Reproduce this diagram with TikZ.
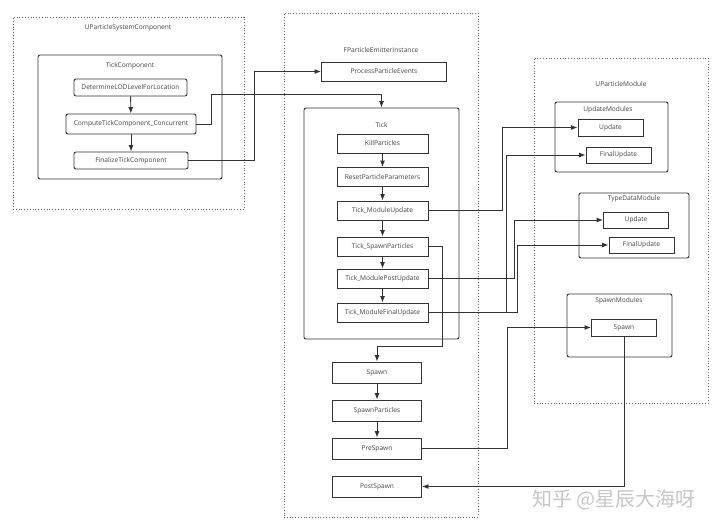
\documentclass[tikz,border=0pt]{standalone}
\usepackage{fontspec}
\setmainfont{Open Sans}
\newfontfamily\cjk{Noto Sans CJK SC}
\usetikzlibrary{arrows.meta}
\definecolor{ln}{HTML}{333333}
\definecolor{txt}{HTML}{444444}
\definecolor{dots}{HTML}{666666}

\begin{document}
\begin{tikzpicture}[x=1pt,y=-1pt,>={Latex[length=6.5pt,width=5pt]},line width=0.9pt,
  every node/.style={font=\fontsize{6.6}{8}\selectfont,text=txt,inner sep=0pt},
  grp/.style={draw=dots,dotted,line width=0.8pt},
  blk/.style={draw=ln,rounded corners=2pt},
  box/.style={draw=ln},
  rbox/.style={box,rounded corners=2pt},
  tickstep/.style={box,minimum width=91pt,minimum height=19pt},
  flowstep/.style={box,minimum width=89pt,minimum height=21pt},
  modstep/.style={box,minimum width=65pt,minimum height=17pt}]
  \useasboundingbox (0,0) rectangle (720,531);

  % containers
  \node[grp,minimum width=231pt,minimum height=192pt] (usc) at (128.5,113) {};
  \node[grp,minimum width=194pt,minimum height=504pt] (fpei) at (381,265) {};
  \node[grp,minimum width=174pt,minimum height=345pt] (upm) at (621,230.5) {};
  \node (usclbl) at (128,28) {UParticleSystemComponent};
  \node (fpeilbl) at (381,50) {FParticleEmitterInstance};
  \node (upmlbl) at (621,84) {UParticleModule};

  \node[blk,minimum width=184pt,minimum height=124pt] (tickcomp) at (130,117) {};
  \node[blk,minimum width=155pt,minimum height=231pt] (tick) at (381.5,223.5) {};
  \node[blk,minimum width=113pt,minimum height=70pt] (updmods) at (611.5,137) {};
  \node[blk,minimum width=110pt,minimum height=65pt] (tdmod) at (634,225.5) {};
  \node[blk,minimum width=105pt,minimum height=63pt] (spmods) at (619.5,325.5) {};
  \node (tickcomplbl) at (130,66) {TickComponent};
  \node (ticklbl) at (381.5,125) {Tick};
  \node (updmodslbl) at (608,110) {UpdateModules};
  \node (tdmodlbl) at (634,199) {TypeDataModule};
  \node (spmodslbl) at (619,301) {SpawnModules};

  % UParticleSystemComponent
  \node[rbox,minimum width=113pt,minimum height=17pt] (lod) at (130.5,87.5) {DetermineLODLevelForLocation};
  \node[rbox,minimum width=130pt,minimum height=20pt] (ctc) at (131,124) {ComputeTickComponent\_Concurrent};
  \node[rbox,minimum width=114pt,minimum height=17pt] (ftc) at (131,160.5) {FinalizeTickComponent};

  % FParticleEmitterInstance
  \node[box,minimum width=125pt,minimum height=19pt] (ppe) at (384,71.5) {ProcessParticleEvents};
  \node[tickstep] (kill) at (382.5,143.5) {KillParticles};
  \node[tickstep] (reset) at (382.5,177) {ResetParticleParameters};
  \node[tickstep] (tmu) at (382.5,210.5) {Tick\_ModuleUpdate};
  \node[tickstep] (tsp) at (382.5,246.5) {Tick\_SpawnParticles};
  \node[tickstep] (tmpu) at (382.5,278.5) {Tick\_ModulePostUpdate};
  \node[tickstep] (tmfu) at (382.5,312.5) {Tick\_ModuleFinalUpdate};
  \node[flowstep] (spawn) at (377,372.5) {Spawn};
  \node[flowstep] (spp) at (377,410.5) {SpawnParticles};
  \node[flowstep] (pre) at (377,448.5) {PreSpawn};
  \node[flowstep] (post) at (377,486.5) {PostSpawn};

  % UParticleModule
  \node[modstep] (upd1) at (610.5,127.5) {Update};
  \node[modstep,minimum height=16pt] (fupd1) at (618.5,155) {FinalUpdate};
  \node[modstep,minimum height=16pt] (upd2) at (636,220) {Update};
  \node[modstep,minimum height=16pt] (fupd2) at (641.5,245) {FinalUpdate};
  \node[modstep] (spm) at (624,327.5) {Spawn};

  \node[font=\cjk\fontsize{20}{24}\selectfont,text=black!22] (wm) at (614,500) {知乎 @星辰大海呀};

  % connectors
  \draw[->,ln] (lod) -- (ctc);
  \draw[->,ln] (ctc) -- (ftc);
  \draw[->,ln] (ftc.east) -- ++(66,0) |- (ppe.west);
  \draw[->,ln] (ctc.east) -- ++(15,0) -- ++(0,-30) -| (tick.north);
  \draw[->,ln] (kill) -- (reset);
  \draw[->,ln] (reset) -- (tmu);
  \draw[->,ln] (tmu) -- (tsp);
  \draw[->,ln] (tsp) -- (tmpu);
  \draw[->,ln] (tmpu) -- (tmfu);
  \draw[->,ln] (tmu.east) -- ++(74,0) |- (upd1.west);
  \draw[->,ln] (tmfu.east) -- ++(78,0) |- (fupd1.west);
  \draw[->,ln] (tmpu.east) -- ++(86,0) |- (upd2.west);
  \draw[->,ln] (tmfu.east) -- ++(89,0) |- (fupd2.west);
  \draw[->,ln] (tsp.east) -- ++(14,0) -- ++(0,99.5) -| (spawn.north);
  \draw[->,ln] (spawn) -- (spp);
  \draw[->,ln] (spp) -- (pre);
  \draw[->,ln] (pre.east) -- ++(85,0) |- (spm.west);
  \draw[->,ln] (spm.south) |- (post.east);
\end{tikzpicture}
\end{document}
